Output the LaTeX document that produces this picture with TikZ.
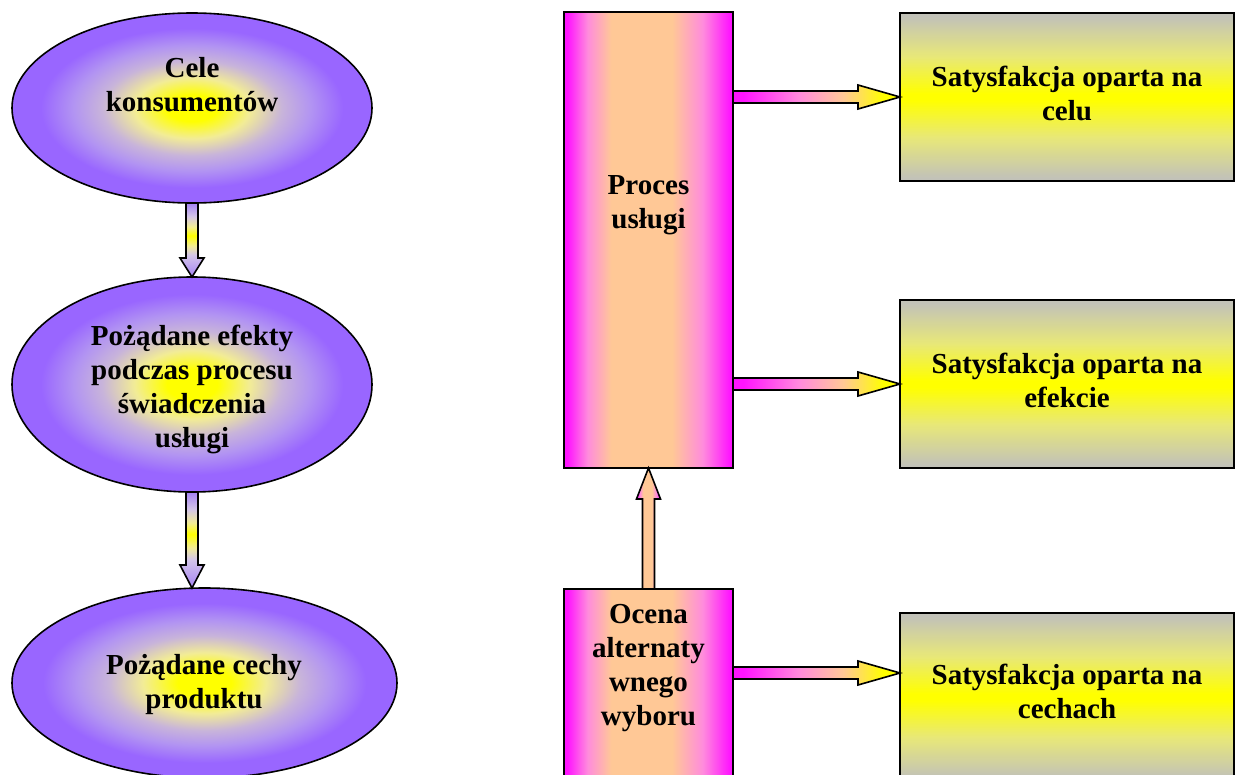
\documentclass[tikz,border=0pt]{standalone}
\usepackage{fontspec}
\setmainfont{Liberation Serif}
\usetikzlibrary{shapes.geometric,calc}
\definecolor{epurple}{RGB}{153,102,255}
\definecolor{apurple}{RGB}{165,130,245}
\definecolor{eyellow}{RGB}{255,255,0}
\definecolor{paley}{RGB}{242,236,150}
\definecolor{lavgray}{RGB}{200,180,218}
\definecolor{lav}{RGB}{178,148,242}
\definecolor{lavlight}{RGB}{212,198,232}
\definecolor{mag}{RGB}{255,20,255}
\definecolor{peach}{RGB}{255,200,150}
\definecolor{pinkm}{RGB}{255,140,220}
\definecolor{rgray}{RGB}{194,194,184}
\definecolor{ygray}{RGB}{232,232,120}
\pgfdeclareradialshading{ellsh}{\pgfpoint{0bp}{0bp}}{color(0bp)=(eyellow); color(3.5bp)=(eyellow); color(8bp)=(paley); color(12.5bp)=(lavgray); color(16.5bp)=(lav); color(21bp)=(epurple); color(50bp)=(epurple)}
\pgfdeclareverticalshading{rectsh}{100bp}{color(0bp)=(rgray); color(26bp)=(rgray); color(38bp)=(ygray); color(49bp)=(eyellow); color(51bp)=(eyellow); color(62bp)=(ygray); color(74bp)=(rgray); color(100bp)=(rgray)}
\pgfdeclarehorizontalshading{tallsh}{100bp}{color(0bp)=(mag); color(26bp)=(mag); color(32bp)=(pinkm); color(39bp)=(peach); color(57bp)=(peach); color(66bp)=(pinkm); color(74bp)=(mag); color(100bp)=(mag)}
\pgfdeclarehorizontalshading{rarrsh}{100bp}{color(0bp)=(mag); color(28bp)=(mag); color(45bp)=(pinkm); color(58bp)=(peach); color(70bp)=(eyellow); color(100bp)=(eyellow)}
\pgfdeclareverticalshading{darrsh}{100bp}{color(0bp)=(apurple); color(25bp)=(apurple); color(40bp)=(lavlight); color(46bp)=(paley); color(53bp)=(eyellow); color(59bp)=(paley); color(66bp)=(lavlight); color(75bp)=(apurple); color(100bp)=(apurple)}
\tikzset{
  txt/.style={font=\fontsize{29bp}{34bp}\selectfont\bfseries, align=center, inner sep=0pt},
  ell/.style={ellipse, draw=black, line width=1.6bp, shade, shading=ellsh, inner sep=0pt, outer sep=0pt},
  satbox/.style={rectangle, draw=black, line width=2bp, shade, shading=rectsh, minimum width=334bp, minimum height=168bp, inner sep=0pt, outer sep=0pt},
  tallbox/.style={rectangle, draw=black, line width=2bp, shade, shading=tallsh, minimum width=169bp, inner sep=0pt, outer sep=0pt},
  barrow/.style={draw=black, line width=1.6bp, shade},
}
\newcommand\blockdown[3]{%
  \path[barrow, shading=darrsh] let \p1=#1, \p2=#2 in
   (\x1-6bp,\y1) -- (\x1+6bp,\y1) -- (\x1+6bp,\y2+#3) -- (\x1+12bp,\y2+#3) -- (\x1,\y2)
   -- (\x1-12bp,\y2+#3) -- (\x1-6bp,\y2+#3) -- cycle;}
\newcommand\blockup[3]{%
  \path[barrow, shading=tallsh] let \p1=#1, \p2=#2 in
   (\x1-6bp,\y1) -- (\x1+6bp,\y1) -- (\x1+6bp,\y2-#3) -- (\x1+12bp,\y2-#3) -- (\x1,\y2)
   -- (\x1-12bp,\y2-#3) -- (\x1-6bp,\y2-#3) -- cycle;}
\newcommand\blockright[3]{%
  \path[barrow, shading=rarrsh] let \p1=#1, \p2=#2 in
   (\x1,\y1+6bp) -- (\x2-#3,\y1+6bp) -- (\x2-#3,\y1+12bp) -- (\x2,\y1) -- (\x2-#3,\y1-12bp)
   -- (\x2-#3,\y1-6bp) -- (\x1,\y1-6bp) -- cycle;}
\begin{document}
\begin{tikzpicture}[x=1bp,y=-1bp]
\useasboundingbox (0,0) rectangle (1236,775);
\clip (0,0) rectangle (1236,775);
% left column
\node[ell, minimum width=360bp, minimum height=190bp] (e1) at (192,108) {};
\node[txt] (e1t) at (192,85) {Cele\\konsumentów};
\node[ell, minimum width=360bp, minimum height=215bp] (e2) at (192,384.5) {};
\node[txt] (e2t) at (192,389) {Pożądane efekty\\podczas procesu\\świadczenia\\usługi};
\node[ell, minimum width=385bp, minimum height=190bp] (e3) at (204.5,683) {};
\node[txt] (e3t) at (204,685) {Pożądane cechy\\produktu};
% middle column
\node[tallbox, minimum height=456bp] (tall) at (648.5,240) {};
\node[txt] (tallt) at (648.5,205) {Proces\\usługi};
\node[tallbox, minimum height=211bp] (ocena) at (648.5,694.5) {};
\node[txt] (ocenat) at (648.5,668) {Ocena\\alternaty\\wnego\\wyboru};
% right column
\node[satbox] (r1) at (1067,97) {};
\node[txt] (r1t) at (1067,93.5) {Satysfakcja oparta na\\celu};
\node[satbox] (r2) at (1067,384) {};
\node[txt] (r2t) at (1067,380) {Satysfakcja oparta na\\efekcie};
\node[satbox] (r3) at (1067,697) {};
\node[txt] (r3t) at (1067,691) {Satysfakcja oparta na\\cechach};
\coordinate (a3) at (0,673);
% connectors
\blockdown{(e1.south)}{(e2.north)}{19bp}
\blockdown{(e2.south)}{(e2.south |- e3.north)}{23bp}
\blockup{(ocena.north)}{(tall.south)}{31bp}
\blockright{(tall.east |- r1.west)}{(r1.west)}{42bp}
\blockright{(tall.east |- r2.west)}{(r2.west)}{42bp}
\blockright{(ocena.east |- a3)}{(r3.west |- a3)}{42bp}
\end{tikzpicture}
\end{document}
